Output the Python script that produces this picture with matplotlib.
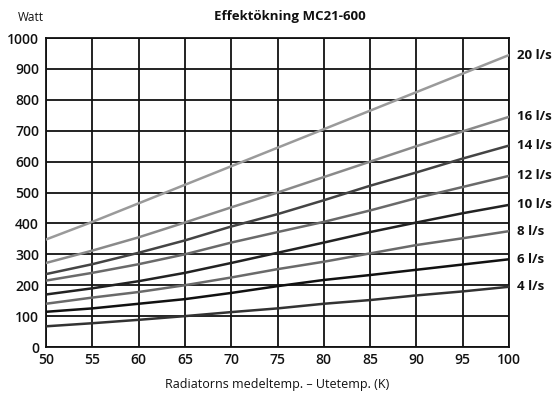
import matplotlib
matplotlib.use("Agg")
import matplotlib.pyplot as plt
import matplotlib.transforms as mtransforms

# x axis: radiator mean temp minus outdoor temp (K)
temp_diff = [50, 55, 60, 65, 70, 75, 80, 85, 90, 95, 100]

# power (W) per flow rate
flow_labels = ["20 l/s", "16 l/s", "14 l/s", "12 l/s", "10 l/s", "8 l/s", "6 l/s", "4 l/s"]
watt_20 = [348, 405, 465, 525, 585, 645, 705, 765, 825, 885, 945]
watt_16 = [272, 312, 355, 403, 452, 500, 550, 600, 650, 698, 745]
watt_14 = [236, 268, 305, 345, 390, 430, 475, 522, 565, 610, 652]
watt_12 = [215, 240, 268, 300, 338, 372, 405, 442, 482, 518, 554]
watt_10 = [170, 190, 213, 240, 272, 305, 338, 372, 403, 433, 460]
watt_8 = [140, 160, 178, 200, 225, 252, 276, 303, 330, 352, 375]
watt_6 = [114, 125, 140, 155, 175, 197, 217, 233, 250, 267, 284]
watt_4 = [67, 77, 88, 100, 113, 125, 140, 152, 167, 180, 195]
series = [watt_20, watt_16, watt_14, watt_12, watt_10, watt_8, watt_6, watt_4]

line_colors = ["#9a9a9a", "#8a8a8a", "#444444", "#6a6a6a",
               "#222222", "#6a6a6a", "#111111", "#333333"]

x_ticks = list(range(50, 101, 5))
y_ticks = list(range(0, 1001, 100))

plt.rcParams["font.family"] = ["Open Sans", "DejaVu Sans"]

fig = plt.figure(figsize=(5.57, 3.96), dpi=100)
ax = fig.add_axes([0.0826, 0.1237, 0.8314, 0.7803])

for vals, col in zip(series, line_colors):
    ax.plot(temp_diff, vals, color=col, lw=1.8, zorder=3)

ax.set_xlim(50, 100)
ax.set_ylim(0, 1000)
ax.set_xticks(x_ticks)
ax.set_yticks(y_ticks)
ax.grid(True, color="#111111", lw=1.3, zorder=1)
ax.set_axisbelow(True)
ax.tick_params(length=0, labelsize=10, colors="#111111")
ax.tick_params(axis="y", pad=5)
ax.tick_params(axis="x", pad=4)
for lbl in ax.get_xticklabels() + ax.get_yticklabels():
    lbl.set_fontweight("semibold")
for sp in ax.spines.values():
    sp.set_color("#111111")
    sp.set_linewidth(1.3)

# flow labels to the right of the line ends
trans = mtransforms.blended_transform_factory(ax.transAxes, ax.transData)
for lab, vals in zip(flow_labels, series):
    ax.text(1.018, vals[-1], lab, transform=trans, ha="left", va="center",
            fontsize=9.5, fontweight="bold", color="#111111")

fig.text(0.032, 0.955, "Watt", fontsize=8.5, ha="left", va="center", color="#111111")
fig.text(0.52, 0.958, "Effektökning MC21-600", fontsize=9.5, fontweight="bold",
         ha="center", va="center", color="#111111")
ax.set_xlabel("Radiatorns medeltemp. – Utetemp. (K)", fontsize=9, labelpad=8,
              color="#111111")

fig.savefig("out.png", dpi=100)
